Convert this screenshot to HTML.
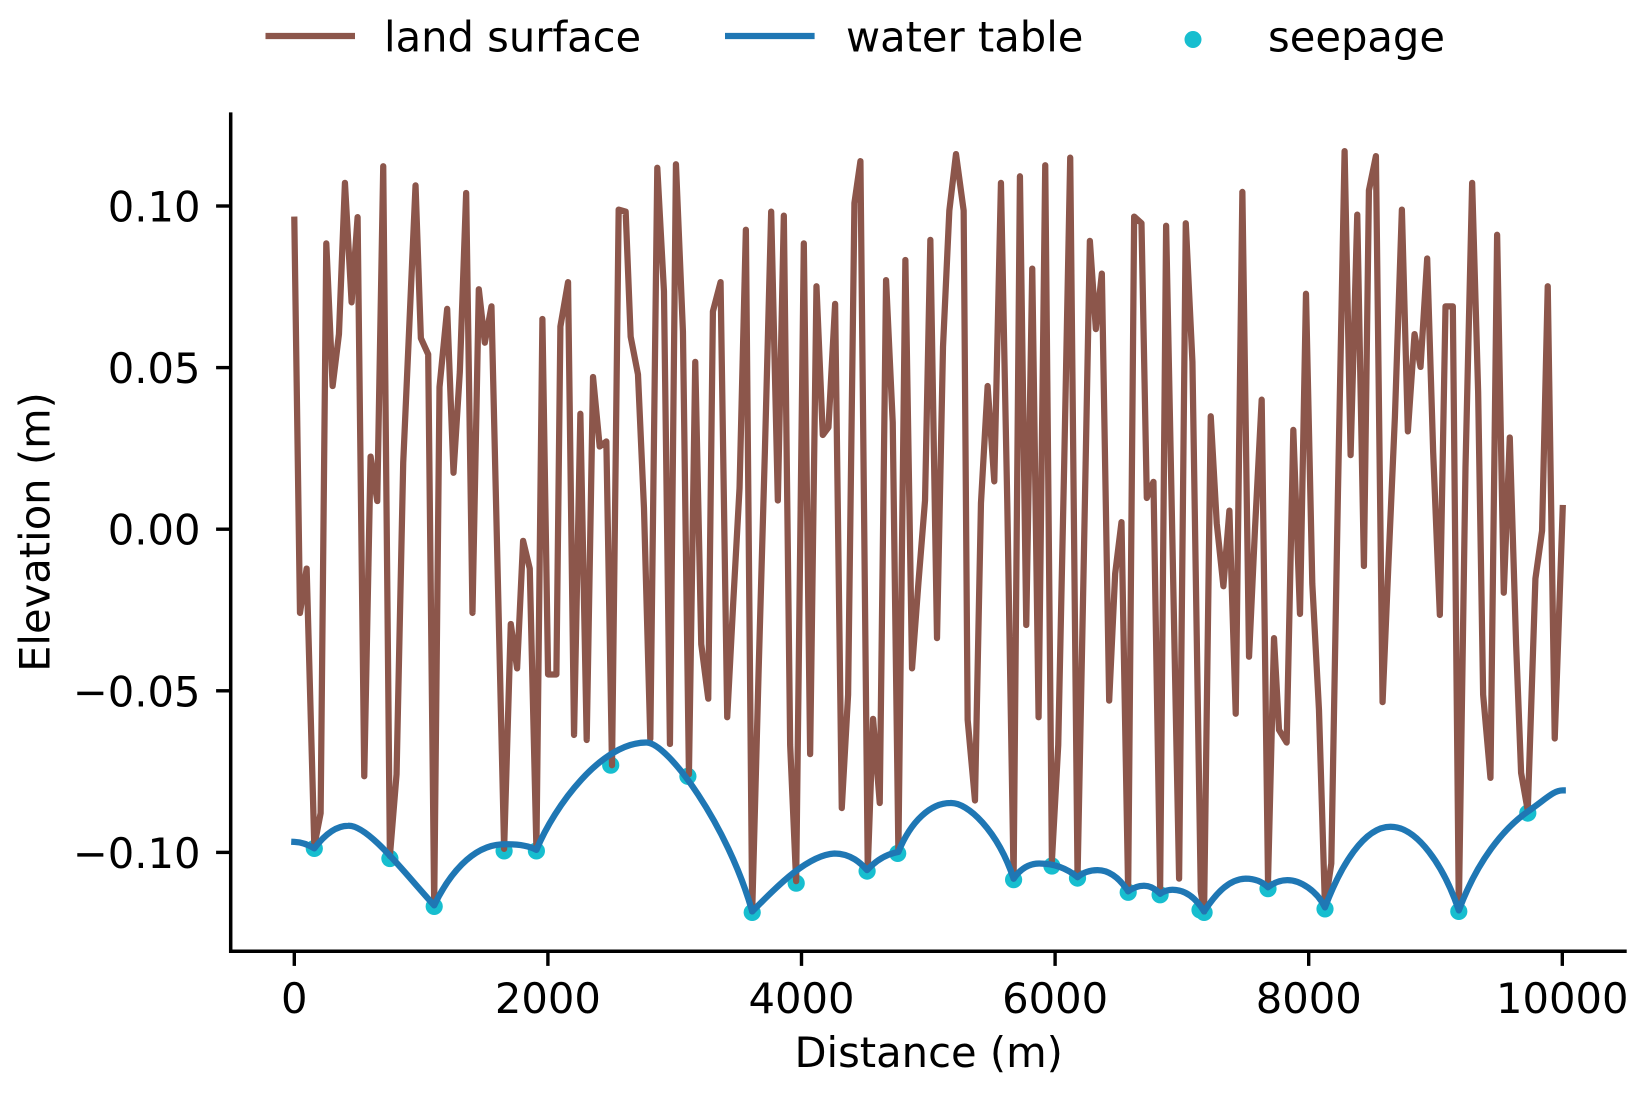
<!DOCTYPE html>
<html>
<head>
<meta charset="utf-8">
<style>
html,body{margin:0;padding:0;background:#ffffff;}
svg{display:block;}
text{font-family:"DejaVu Sans","Liberation Sans",sans-serif;font-size:41.67px;fill:#000;}
</style>
</head>
<body>
<svg xmlns="http://www.w3.org/2000/svg" width="1646" height="1093" viewBox="0 0 1646 1093">
<rect x="0" y="0" width="1646" height="1093" fill="#ffffff"/>

<!-- legend -->
<line x1="265.5" y1="36" x2="355" y2="36" stroke="#8c564b" stroke-width="6.25"/>
<text x="384" y="51.5">land surface</text>
<line x1="725" y1="36" x2="814.6" y2="36" stroke="#1f77b4" stroke-width="6.25"/>
<text x="846" y="51.5">water table</text>
<circle cx="1193" cy="39.5" r="8.5" fill="#17becf"/>
<text x="1268" y="51.5">seepage</text>

<!-- seepage markers (under lines) -->
<g fill="#17becf">
<circle cx="314.3" cy="848.4" r="8.6"/>
<circle cx="389.9" cy="858.5" r="8.6"/>
<circle cx="434.2" cy="906.4" r="8.6"/>
<circle cx="504.1" cy="850.9" r="8.6"/>
<circle cx="536.4" cy="850.9" r="8.6"/>
<circle cx="610.7" cy="765.2" r="8.6"/>
<circle cx="687.9" cy="776.3" r="8.6"/>
<circle cx="752.2" cy="912.4" r="8.6"/>
<circle cx="796.2" cy="883.2" r="8.6"/>
<circle cx="867.1" cy="871.1" r="8.6"/>
<circle cx="897.7" cy="853.4" r="8.6"/>
<circle cx="1013.6" cy="879.7" r="8.6"/>
<circle cx="1051.9" cy="866.0" r="8.6"/>
<circle cx="1077.5" cy="878.1" r="8.6"/>
<circle cx="1128.2" cy="892.3" r="8.6"/>
<circle cx="1160.1" cy="894.8" r="8.6"/>
<circle cx="1200.0" cy="909.9" r="8.6"/>
<circle cx="1204.1" cy="912.4" r="8.6"/>
<circle cx="1268.0" cy="888.7" r="8.6"/>
<circle cx="1325.0" cy="908.9" r="8.6"/>
<circle cx="1458.8" cy="911.4" r="8.6"/>
<circle cx="1527.8" cy="813.1" r="8.6"/>
</g>

<g transform="translate(285,140) scale(0.333,0.5042)">
<polyline fill="none" stroke="#8c564b" stroke-width="6.25" stroke-linejoin="round" stroke-linecap="square" vector-effect="non-scaling-stroke" points="
28,158 45,938 65,850 88,1400 107,1335 124,205 143,488 162,385 180,85 200,322 218,153 238,1262 257,628 277,716 295,52 315,1420 335,1258 355,640 392,90 408,393 430,425 448,1515 464,490 487,335 506,660 525,460 544,105 563,938 582,296 600,402 620,330 658,1406 678,960 697,1048 715,795 735,850 755,1405 773,355 790,1060 815,1060 827,370 850,282 868,1180 887,543 906,1190 925,470 945,608 965,598 982,1240
1002,138 1023,142 1038,390 1060,465 1078,730 1097,1188 1118,55 1138,300 1156,1198 1174,48 1195,380 1213,1258 1232,440 1250,1000 1271,1108 1285,340 1308,282 1328,1145 1346,918 1365,690 1384,178 1403,1530 1422,1060 1441,620 1460,142 1480,715 1498,150 1517,1200 1535,1470 1558,205 1577,1218 1596,290 1615,585 1632,570 1652,325 1672,1325 1691,1100 1710,125 1728,42 1750,1445 1766,1148 1786,1315 1805,278 1825,560 1842,1410 1863,238 1883,1048 1902,880 1922,715
1938,198 1958,988 1976,410 1995,140 2015,28 2038,140 2050,1150 2072,1310 2090,720 2110,488 2130,677 2150,85 2169,720 2188,1465 2207,72 2226,962 2244,255 2263,1145 2283,50 2303,1430 2322,1200 2340,640 2358,35 2380,1462 2398,860 2417,200 2435,375 2453,265 2475,1112 2493,860 2512,758 2532,1490 2550,152 2572,165 2588,710 2608,678 2628,1485 2646,170 2665,800 2685,1465 2705,165 2725,440 2750,1490 2760,1530 2780,548 2798,760 2818,885 2836,735 2855,1138 2875,103 2895,1025
2913,770 2933,515 2952,1470 2970,988 2985,1170 3008,1195 3028,575 3048,940 3066,305 3085,880 3105,1130 3123,1520 3142,1435 3162,700 3182,22 3200,625 3220,148 3240,845 3255,100 3276,32 3296,1115 3313,850 3333,550 3354,138 3372,578 3392,385 3410,450 3430,235 3448,620 3468,942 3485,330 3507,330 3525,1525 3545,650 3565,85 3583,500 3598,1100 3620,1265 3640,188 3660,898 3678,590 3697,1000 3712,1255 3732,1330 3755,870 3775,775 3792,290 3813,1187 3825,960 3837,730"/>
<path fill="none" stroke="#1f77b4" stroke-width="6.25" stroke-linejoin="round" stroke-linecap="square" vector-effect="non-scaling-stroke" d="
M 28,1392 Q 60,1393 88,1405
Q 139,1360 190,1360
C 250,1358 360,1455 448,1518
C 490,1460 560,1400 650,1397
Q 720,1395 755,1408
C 810,1320 950,1195 1085,1195
C 1150,1195 1330,1360 1403,1530
C 1450,1500 1560,1418 1650,1415
C 1700,1415 1730,1435 1748,1448
Q 1790,1418 1842,1412
C 1880,1350 1940,1315 1998,1315
C 2050,1313 2140,1370 2188,1465
Q 2220,1435 2265,1435
Q 2330,1435 2380,1462
Q 2405,1448 2440,1448
Q 2490,1448 2532,1490
Q 2555,1479 2580,1479
Q 2605,1479 2628,1495
Q 2645,1487 2665,1487
Q 2720,1487 2760,1530
C 2790,1500 2830,1466 2885,1465
Q 2925,1465 2952,1482
Q 2980,1468 3010,1468
C 3050,1468 3100,1490 3123,1522
C 3170,1440 3240,1362 3320,1362
C 3400,1362 3480,1440 3525,1528
C 3580,1430 3660,1365 3732,1332
C 3790,1305 3810,1290 3837,1290"/>
</g>

<!-- spines -->
<line x1="230.7" y1="112.4" x2="230.7" y2="953" stroke="#000" stroke-width="3.5"/>
<line x1="229" y1="951.3" x2="1626.7" y2="951.3" stroke="#000" stroke-width="3.5"/>

<!-- y ticks -->
<g stroke="#000" stroke-width="3.4">
<line x1="216.1" y1="206" x2="230.7" y2="206"/>
<line x1="216.1" y1="367.6" x2="230.7" y2="367.6"/>
<line x1="216.1" y1="529.2" x2="230.7" y2="529.2"/>
<line x1="216.1" y1="690.8" x2="230.7" y2="690.8"/>
<line x1="216.1" y1="852.4" x2="230.7" y2="852.4"/>
</g>
<g text-anchor="end">
<text x="200.5" y="221.5">0.10</text>
<text x="200.5" y="383.1">0.05</text>
<text x="200.5" y="544.7">0.00</text>
<text x="200.5" y="706.3">−0.05</text>
<text x="200.5" y="867.9">−0.10</text>
</g>

<!-- x ticks -->
<g stroke="#000" stroke-width="3.4">
<line x1="294.3" y1="951.3" x2="294.3" y2="965.9"/>
<line x1="547.9" y1="951.3" x2="547.9" y2="965.9"/>
<line x1="801.5" y1="951.3" x2="801.5" y2="965.9"/>
<line x1="1055.1" y1="951.3" x2="1055.1" y2="965.9"/>
<line x1="1308.7" y1="951.3" x2="1308.7" y2="965.9"/>
<line x1="1562.3" y1="951.3" x2="1562.3" y2="965.9"/>
</g>
<g text-anchor="middle">
<text x="294.3" y="1013">0</text>
<text x="547.9" y="1013">2000</text>
<text x="801.5" y="1013">4000</text>
<text x="1055.1" y="1013">6000</text>
<text x="1308.7" y="1013">8000</text>
<text x="1562.3" y="1013">10000</text>
</g>

<!-- axis labels -->
<text x="928.7" y="1067" text-anchor="middle">Distance (m)</text>
<text transform="translate(49.5,532) rotate(-90)" x="0" y="0" text-anchor="middle">Elevation (m)</text>
</svg>
</body>
</html>
